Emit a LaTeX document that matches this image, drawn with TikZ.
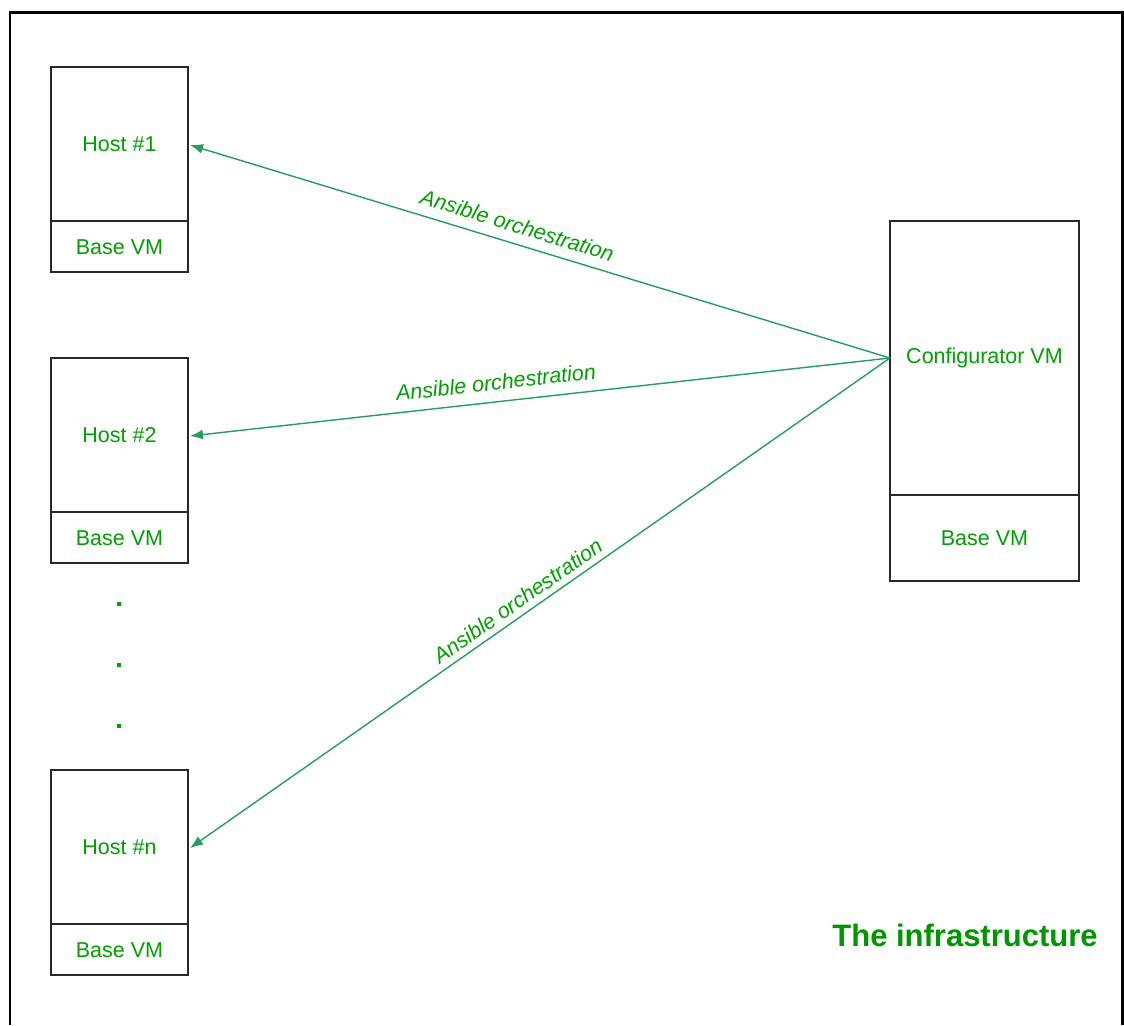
\documentclass[tikz,border=0pt]{standalone}
\usepackage{fontspec}
\setmainfont{Liberation Sans}
\usetikzlibrary{arrows.meta}
\definecolor{txtgreen}{RGB}{0,160,0}
\definecolor{ttlgreen}{RGB}{0,150,0}
\definecolor{arrgreen}{RGB}{36,158,96}
\definecolor{boxline}{RGB}{40,40,40}
\tikzset{
  vmbox/.style={draw=boxline, line width=1.6pt, inner sep=0pt},
  vmtext/.style={text=txtgreen, font=\fontsize{21.5}{24}\selectfont},
  lbl/.style={text=txtgreen, font=\fontsize{21.5}{24}\selectfont\itshape, sloped, inner sep=2pt},
  orch/.style={draw=arrgreen, line width=1.4pt, -{Latex[length=13pt,width=10pt]}},
  dotmark/.style={rectangle, fill=txtgreen, inner sep=0pt, minimum size=4pt}
}
\begin{document}
\begin{tikzpicture}[x=1pt,y=-1pt]
\useasboundingbox (0,0) rectangle (1124,1025);
% outer frame (open at bottom)
\draw[black, line width=2.2pt] (10,1025) -- (10,12.5) -- (1122.5,12.5) -- (1122.5,1025);
% host boxes
\foreach \nm/\t/\lab in {h1/67/Host \#1, h2/358/Host \#2, hn/770/Host \#n}{
  \draw[vmbox] (51,\t) rectangle (188,\t+205);
  \draw[vmbox] (51,\t+154) -- (188,\t+154);
  \node[vmtext] (\nm) at (119.5,\t+77) {\lab};
  \node[vmtext] (\nm b) at (119.5,\t+180) {Base VM};
  \coordinate (\nm e) at (190,\t+78);
}
% configurator
\draw[vmbox] (890,221) rectangle (1079,581);
\draw[vmbox] (890,495) -- (1079,495);
\node[vmtext] (cfg) at (984.5,358) {Configurator VM};
\node[vmtext] (cfgb) at (984.5,538) {Base VM};
\coordinate (src) at (890,358);
% dots
\node[dotmark] (d1) at (119,604) {};
\node[dotmark] (d2) at (119,665) {};
\node[dotmark] (d3) at (119,726) {};
% arrows
\draw[orch] (src) -- node[lbl, pos=0.54, above=8pt] (l1) {Ansible orchestration} (h1e);
\draw[orch] (src) -- node[lbl, pos=0.56, above=9pt] (l2) {Ansible orchestration} (h2e);
\draw[orch] (src) -- node[lbl, pos=0.52, above=4pt] (l3) {Ansible orchestration} (hne);
% title
\node[text=ttlgreen, font=\fontsize{31}{34}\selectfont\bfseries] (title) at (965,935) {The infrastructure};
\end{tikzpicture}
\end{document}
